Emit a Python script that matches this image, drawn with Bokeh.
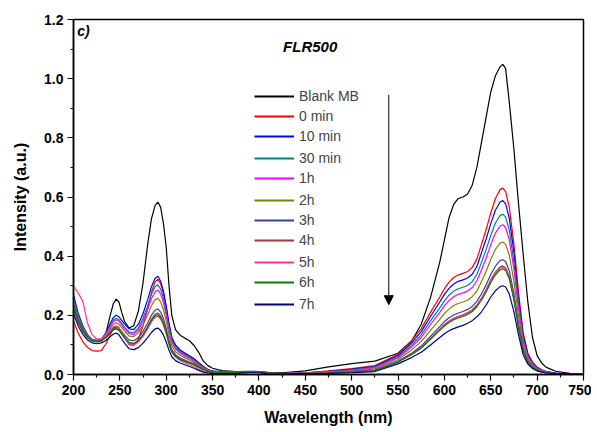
from bokeh.plotting import figure
from bokeh.models import Range1d, Legend, LegendItem, Arrow, NormalHead, Label, FixedTicker
from bokeh.embed import file_html
from bokeh.resources import INLINE

wavelength = [200, 205, 210, 215, 220, 225, 230, 235, 240, 243,
              246, 249, 252, 255, 260, 265, 270, 275, 280, 284,
              288, 291, 294, 297, 300, 303, 306, 310, 315, 320,
              325, 330, 335, 340, 345, 350, 360, 375, 390, 400,
              410, 425, 450,
              475, 500, 525, 550, 565, 575, 585, 595, 600, 605,
              610, 615, 620, 625, 630, 635, 640, 645, 650, 655,
              660, 663, 666, 670, 675, 680, 685, 690, 695, 700,
              705, 710, 720, 735, 750]

blank_mb = [0.225, 0.19, 0.16, 0.135, 0.118, 0.112, 0.118, 0.14, 0.205, 0.24,
            0.255, 0.245, 0.21, 0.18, 0.157, 0.165, 0.215, 0.31, 0.44, 0.525,
            0.572, 0.583, 0.565, 0.51, 0.43, 0.30, 0.20, 0.152, 0.133, 0.123,
            0.114, 0.098, 0.075, 0.045, 0.03, 0.021, 0.013, 0.01, 0.011, 0.01,
            0.007, 0.006, 0.012,
            0.026, 0.037, 0.045, 0.072, 0.115, 0.17, 0.26, 0.38, 0.455, 0.53,
            0.575, 0.595, 0.60, 0.61, 0.64, 0.70, 0.785, 0.87, 0.955, 1.01,
            1.04, 1.048, 1.035, 0.92, 0.76, 0.575, 0.405, 0.245, 0.125, 0.064,
            0.038, 0.024, 0.011, 0.004, 0.002]
t_0min = [0.18, 0.14, 0.111, 0.092, 0.081, 0.079, 0.081, 0.104, 0.137, 0.155,
          0.162, 0.156, 0.14, 0.124, 0.101, 0.098, 0.12, 0.165, 0.223, 0.277,
          0.313, 0.322, 0.306, 0.274, 0.225, 0.167, 0.122, 0.097, 0.081, 0.071,
          0.061, 0.052, 0.039, 0.026, 0.016, 0.011, 0.007, 0.006, 0.008, 0.008,
          0.005, 0.003, 0.005,
          0.012, 0.02, 0.03, 0.068, 0.115, 0.155, 0.21, 0.262, 0.29, 0.312,
          0.328, 0.337, 0.342, 0.348, 0.362, 0.39, 0.44, 0.49, 0.546, 0.595,
          0.625, 0.63, 0.618, 0.565, 0.44, 0.275, 0.14, 0.072, 0.042, 0.025,
          0.016, 0.01, 0.005, 0.003, 0.002]
t_10min = [0.27, 0.208, 0.165, 0.135, 0.118, 0.115, 0.118, 0.141, 0.175, 0.193,
           0.20, 0.195, 0.183, 0.171, 0.154, 0.152, 0.17, 0.206, 0.253, 0.296,
           0.325, 0.332, 0.315, 0.282, 0.232, 0.173, 0.126, 0.10, 0.083, 0.073,
           0.063, 0.053, 0.04, 0.027, 0.017, 0.012, 0.009, 0.008, 0.01, 0.01,
           0.006, 0.003, 0.006,
           0.011, 0.018, 0.027, 0.064, 0.108, 0.145, 0.196, 0.245, 0.271, 0.291,
           0.306, 0.315, 0.32, 0.326, 0.339, 0.365, 0.411, 0.458, 0.51, 0.555,
           0.583, 0.588, 0.577, 0.528, 0.411, 0.257, 0.131, 0.067, 0.039, 0.023,
           0.015, 0.009, 0.005, 0.003, 0.002]
t_30min = [0.255, 0.199, 0.16, 0.133, 0.118, 0.115, 0.118, 0.138, 0.168, 0.184,
           0.19, 0.185, 0.173, 0.161, 0.143, 0.141, 0.157, 0.19, 0.232, 0.271,
           0.297, 0.303, 0.288, 0.258, 0.212, 0.158, 0.115, 0.091, 0.076, 0.067,
           0.058, 0.048, 0.036, 0.024, 0.015, 0.011, 0.008, 0.008, 0.009, 0.009,
           0.006, 0.003, 0.006,
           0.01, 0.016, 0.025, 0.059, 0.10, 0.134, 0.181, 0.225, 0.249, 0.268,
           0.282, 0.29, 0.295, 0.301, 0.314, 0.338, 0.379, 0.422, 0.47, 0.512,
           0.537, 0.542, 0.532, 0.487, 0.379, 0.237, 0.12, 0.062, 0.036, 0.022,
           0.014, 0.009, 0.004, 0.003, 0.002]
t_1h = [0.245, 0.193, 0.157, 0.133, 0.119, 0.116, 0.119, 0.137, 0.164, 0.179,
        0.185, 0.18, 0.168, 0.155, 0.138, 0.135, 0.15, 0.18, 0.22, 0.256,
        0.28, 0.286, 0.272, 0.243, 0.20, 0.149, 0.109, 0.086, 0.072, 0.063,
        0.054, 0.046, 0.034, 0.023, 0.014, 0.01, 0.007, 0.007, 0.009, 0.009,
        0.005, 0.003, 0.005,
        0.009, 0.015, 0.022, 0.056, 0.094, 0.125, 0.169, 0.21, 0.233, 0.25,
        0.263, 0.271, 0.276, 0.282, 0.294, 0.317, 0.354, 0.394, 0.439, 0.478,
        0.502, 0.506, 0.497, 0.455, 0.354, 0.221, 0.112, 0.058, 0.034, 0.02,
        0.013, 0.008, 0.004, 0.002, 0.001]
t_2h = [0.24, 0.19, 0.154, 0.13, 0.117, 0.114, 0.117, 0.132, 0.157, 0.17,
        0.175, 0.17, 0.159, 0.147, 0.13, 0.128, 0.141, 0.167, 0.201, 0.232,
        0.253, 0.258, 0.245, 0.219, 0.181, 0.134, 0.098, 0.077, 0.065, 0.057,
        0.049, 0.041, 0.031, 0.021, 0.013, 0.009, 0.007, 0.007, 0.009, 0.009,
        0.005, 0.003, 0.005,
        0.008, 0.012, 0.019, 0.05, 0.084, 0.111, 0.149, 0.186, 0.206, 0.221,
        0.233, 0.24, 0.245, 0.251, 0.263, 0.282, 0.314, 0.349, 0.389, 0.423,
        0.444, 0.448, 0.44, 0.403, 0.314, 0.196, 0.099, 0.052, 0.03, 0.018,
        0.012, 0.007, 0.003, 0.002, 0.001]
t_3h = [0.22, 0.176, 0.145, 0.124, 0.113, 0.11, 0.113, 0.126, 0.146, 0.158,
        0.162, 0.157, 0.145, 0.133, 0.116, 0.114, 0.125, 0.146, 0.174, 0.20,
        0.218, 0.222, 0.211, 0.189, 0.155, 0.115, 0.084, 0.067, 0.056, 0.049,
        0.042, 0.036, 0.027, 0.018, 0.011, 0.008, 0.006, 0.006, 0.008, 0.008,
        0.004, 0.002, 0.004,
        0.006, 0.01, 0.015, 0.045, 0.073, 0.096, 0.129, 0.162, 0.179, 0.192,
        0.201, 0.208, 0.213, 0.22, 0.23, 0.247, 0.273, 0.303, 0.338, 0.366,
        0.385, 0.388, 0.382, 0.35, 0.273, 0.17, 0.086, 0.045, 0.026, 0.015,
        0.01, 0.006, 0.003, 0.002, 0.001]
t_4h = [0.23, 0.182, 0.149, 0.126, 0.114, 0.111, 0.114, 0.124, 0.142, 0.151,
        0.155, 0.15, 0.137, 0.124, 0.107, 0.104, 0.114, 0.135, 0.162, 0.187,
        0.204, 0.208, 0.198, 0.177, 0.146, 0.108, 0.079, 0.062, 0.052, 0.046,
        0.04, 0.033, 0.025, 0.017, 0.01, 0.007, 0.006, 0.006, 0.008, 0.008,
        0.004, 0.002, 0.004,
        0.006, 0.009, 0.014, 0.042, 0.07, 0.091, 0.122, 0.153, 0.169, 0.181,
        0.19, 0.197, 0.202, 0.209, 0.219, 0.235, 0.258, 0.287, 0.32, 0.346,
        0.364, 0.367, 0.361, 0.331, 0.258, 0.161, 0.081, 0.043, 0.024, 0.015,
        0.01, 0.006, 0.003, 0.002, 0.001]
t_5h = [0.30, 0.275, 0.248, 0.175, 0.135, 0.12, 0.121, 0.133, 0.152, 0.161,
        0.165, 0.159, 0.142, 0.126, 0.103, 0.10, 0.11, 0.129, 0.155, 0.178,
        0.193, 0.197, 0.187, 0.167, 0.138, 0.102, 0.075, 0.059, 0.047, 0.04,
        0.033, 0.026, 0.018, 0.011, 0.006, 0.004, 0.004, 0.005, 0.007, 0.007,
        0.003, 0.002, 0.004,
        0.006, 0.009, 0.014, 0.042, 0.069, 0.09, 0.121, 0.151, 0.167, 0.179,
        0.188, 0.195, 0.20, 0.206, 0.216, 0.232, 0.256, 0.284, 0.316, 0.343,
        0.36, 0.363, 0.358, 0.328, 0.256, 0.159, 0.08, 0.042, 0.024, 0.014,
        0.01, 0.006, 0.003, 0.002, 0.001]
t_6h = [0.235, 0.186, 0.151, 0.128, 0.115, 0.112, 0.115, 0.125, 0.142, 0.152,
        0.155, 0.15, 0.138, 0.125, 0.108, 0.105, 0.115, 0.134, 0.159, 0.183,
        0.198, 0.202, 0.192, 0.172, 0.141, 0.105, 0.077, 0.061, 0.051, 0.044,
        0.038, 0.032, 0.024, 0.016, 0.01, 0.007, 0.006, 0.006, 0.008, 0.008,
        0.004, 0.002, 0.004,
        0.005, 0.008, 0.013, 0.042, 0.068, 0.089, 0.119, 0.149, 0.164, 0.176,
        0.185, 0.191, 0.196, 0.203, 0.213, 0.229, 0.251, 0.279, 0.311, 0.337,
        0.354, 0.357, 0.352, 0.323, 0.251, 0.157, 0.079, 0.041, 0.024, 0.014,
        0.009, 0.006, 0.003, 0.002, 0.001]
t_7h = [0.205, 0.165, 0.136, 0.117, 0.107, 0.104, 0.107, 0.115, 0.129, 0.137,
        0.14, 0.134, 0.12, 0.106, 0.087, 0.084, 0.091, 0.106, 0.125, 0.142,
        0.154, 0.157, 0.149, 0.133, 0.11, 0.082, 0.06, 0.047, 0.039, 0.033,
        0.027, 0.021, 0.014, 0.008, 0.005, 0.003, 0.003, 0.004, 0.006, 0.006,
        0.002, 0.001, 0.003,
        0.004, 0.006, 0.01, 0.036, 0.058, 0.075, 0.10, 0.125, 0.138, 0.148,
        0.155, 0.161, 0.166, 0.173, 0.182, 0.195, 0.212, 0.235, 0.262, 0.283,
        0.297, 0.30, 0.296, 0.272, 0.212, 0.132, 0.066, 0.035, 0.02, 0.012,
        0.008, 0.005, 0.003, 0.002, 0.001]

series_names = ["Blank MB", "0 min", "10 min", "30 min", "1h", "2h", "3h", "4h", "5h", "6h", "7h"]
series_values = [blank_mb, t_0min, t_10min, t_30min, t_1h, t_2h, t_3h, t_4h, t_5h, t_6h, t_7h]
series_colors = ["#000000", "#ff0000", "#0000ff", "#008080", "#ff00ff", "#808000",
                 "#3c3ca0", "#a03a3a", "#ff3399", "#008000", "#000080"]

x_ticks = [200, 250, 300, 350, 400, 450, 500, 550, 600, 650, 700, 750]
x_minor = [225, 275, 325, 375, 425, 475, 525, 575, 625, 675, 725]
y_ticks = [0.0, 0.2, 0.4, 0.6, 0.8, 1.0, 1.2]
y_minor = [0.1, 0.3, 0.5, 0.7, 0.9, 1.1]
y_tick_labels = ["0.0", "0.2", "0.4", "0.6", "0.8", "1.0", "1.2"]

FONT = "Liberation Sans"

p = figure(width=591, height=428, min_border_left=73, min_border_right=8, min_border_top=19,
           min_border_bottom=53, x_range=Range1d(200, 750), y_range=Range1d(0, 1.2),
           output_backend="svg", toolbar_location=None)
p.xgrid.visible = False
p.ygrid.visible = False
p.outline_line_color = "black"
p.outline_line_width = 1.5
p.outline_line_alpha = 1.0

p.xaxis.ticker = FixedTicker(ticks=x_ticks, minor_ticks=x_minor)
p.yaxis.ticker = FixedTicker(ticks=y_ticks, minor_ticks=y_minor)
p.yaxis.major_label_overrides = {t: l for t, l in zip(y_ticks, y_tick_labels)}

for ax in (p.xaxis[0], p.yaxis[0]):
    ax.axis_line_color = "black"
    ax.axis_line_width = 1.5
    ax.major_tick_in = 0
    ax.major_tick_out = 6
    ax.minor_tick_in = 0
    ax.minor_tick_out = 3
    ax.major_tick_line_width = 1.2
    ax.minor_tick_line_width = 1.2
    ax.major_tick_line_color = "black"
    ax.minor_tick_line_color = "black"
    ax.major_label_text_font = FONT
    ax.major_label_text_font_style = "bold"
    ax.major_label_text_color = "black"
    ax.axis_label_text_font = FONT
    ax.axis_label_text_font_style = "bold"
    ax.axis_label_text_font_size = "16px"
    ax.axis_label_text_color = "black"

p.xaxis.major_label_text_font_size = "14px"
p.yaxis.major_label_text_font_size = "14px"
p.xaxis.axis_label = "Wavelength (nm)"
p.yaxis.axis_label = "Intensity (a.u.)"
p.xaxis.major_label_standoff = 4
p.yaxis.major_label_standoff = 4
p.xaxis.axis_label_standoff = 11
p.yaxis.axis_label_standoff = 12

for name, vals, col in zip(series_names, series_values, series_colors):
    p.line(wavelength, vals, line_color=col, line_width=1.2)

# legend: one single-item legend per row; the sample line comes from an off-range
# proxy renderer so that it can be slightly heavier than the curves
n = len(series_names)
for i, (name, col) in enumerate(zip(series_names, series_colors)):
    proxy = p.line([100, 110], [-1, -1], line_color=col, line_width=2)
    ypos = 2 * round((61 + (n - 1 - i) * 20.8) / 2)
    lg = Legend(items=[LegendItem(label=name, renderers=[proxy])],
                location=(181, ypos), glyph_width=40, glyph_height=20,
                label_height=20, spacing=0, padding=0, margin=0, label_standoff=5,
                border_line_color=None, background_fill_alpha=0, label_text_font=FONT,
                label_text_font_size="14px")
    p.add_layout(lg, "center")

p.add_layout(Arrow(x_start=540, y_start=0.945, x_end=540, y_end=0.236, line_width=1, line_color="black",
                   end=NormalHead(size=9, fill_color="black", line_color="black")))

p.add_layout(Label(x=204, y=1.135, text="c)", text_font=FONT, text_font_style="bold italic",
                   text_font_size="14px", text_color="black"))
p.add_layout(Label(x=426, y=1.08, text="FLR500", text_font=FONT, text_font_style="bold italic",
                   text_font_size="15px", text_color="black"))

open("out.html", "w").write(file_html(p, INLINE))
